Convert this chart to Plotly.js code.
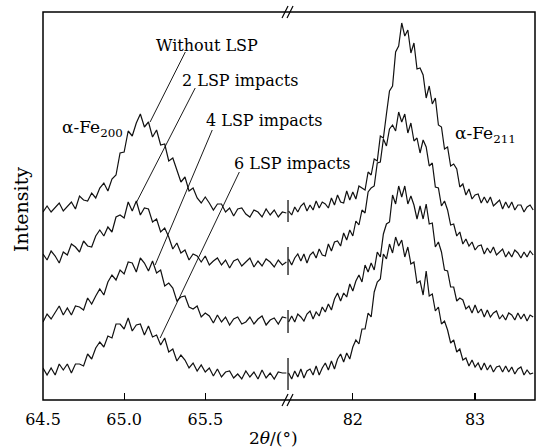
<!DOCTYPE html>
<html>
<head>
<meta charset="utf-8">
<script src="https://cdn.plot.ly/plotly-3.0.1.min.js"></script>
<style>html,body{margin:0;padding:0;background:#fff;}#chart{width:536px;height:448px;}</style>
</head>
<body>
<div id="chart"></div>
<script>
// 2θ sampling (degrees), low-angle segment (α-Fe 200) and high-angle segment (α-Fe 211)
const twoThetaLow = [64.5,64.525,64.55,64.575,64.6,64.625,64.65,64.675,64.7,64.725,64.75,64.775,64.8,64.825,64.85,64.875,64.9,64.925,64.95,64.975,65,65.025,65.05,65.075,65.1,65.125,65.15,65.175,65.2,65.225,65.25,65.275,65.3,65.325,65.35,65.375,65.4,65.425,65.45,65.475,65.5,65.525,65.55,65.575,65.6,65.625,65.65,65.675,65.7,65.725,65.75,65.775,65.8,65.825,65.85,65.875,65.9,65.925,65.95,65.975,66.0];
const twoThetaHigh = [81.475,81.5,81.525,81.55,81.575,81.6,81.625,81.65,81.675,81.7,81.725,81.75,81.775,81.8,81.825,81.85,81.875,81.9,81.925,81.95,81.975,82,82.025,82.05,82.075,82.1,82.125,82.15,82.175,82.2,82.225,82.25,82.275,82.3,82.325,82.35,82.375,82.4,82.425,82.45,82.475,82.5,82.525,82.55,82.575,82.6,82.625,82.65,82.675,82.7,82.725,82.75,82.775,82.8,82.825,82.85,82.875,82.9,82.925,82.95,82.975,83,83.025,83.05,83.075,83.1,83.125,83.15,83.175,83.2,83.225,83.25,83.275,83.3,83.325,83.35,83.375,83.4,83.425,83.45,83.475];

// Intensity (a.u., stacked)
const withoutLow = [188,194,188,193,197,189,193,198,191,204,200,199,207,202,212,217,209,221,225,247,248,269,264,277,286,273,278,263,270,255,256,239,242,231,218,223,209,212,202,197,203,197,190,196,196,188,192,184,191,192,186,183,190,188,183,191,185,190,183,188,187];
const lsp2Low = [146,140,149,144,137,148,145,156,153,148,159,154,153,164,170,164,173,168,183,185,182,198,189,199,185,192,191,178,181,168,172,163,151,157,147,150,140,146,144,138,144,135,139,142,135,140,132,139,141,134,138,142,133,139,134,141,138,133,140,135,138];
const lsp4Low = [78,86,81,88,94,85,92,85,94,93,90,102,96,104,111,105,118,125,120,130,126,138,137,128,142,137,129,139,127,130,114,117,112,99,103,104,93,91,94,83,87,84,77,85,78,83,75,81,83,76,78,83,76,81,84,75,80,82,76,83,82];
const lsp6Low = [32,25,32,25,36,30,36,27,36,36,34,46,41,52,58,53,64,62,76,76,71,82,69,75,76,65,74,63,65,55,62,48,51,39,45,40,32,37,29,35,28,32,24,31,23,28,29,22,26,21,29,23,28,21,30,22,27,21,28,27,27];

const withoutHigh = [189,185,193,188,194,197,189,195,190,199,192,198,196,192,202,195,205,198,197,209,200,208,201,214,212,210,228,225,241,239,264,262,286,309,314,348,354,377,364,370,347,357,331,332,325,302,314,296,302,275,273,251,253,234,236,231,213,216,205,211,201,205,206,197,203,197,203,194,197,200,191,198,192,198,190,195,195,188,193,195,190];
const lsp2High = [141,135,142,146,139,146,137,145,148,142,151,145,144,156,149,158,159,154,167,160,170,164,179,175,190,187,208,212,214,237,238,261,254,271,275,269,288,278,286,267,277,259,262,247,260,253,234,237,213,212,194,199,190,175,176,164,168,156,161,154,158,150,154,155,146,152,147,153,145,148,151,143,148,143,150,147,142,148,143,149,145];
const lsp4High = [78,84,78,86,83,79,86,89,81,88,84,93,88,96,90,101,107,99,107,103,116,109,119,125,118,135,128,137,130,148,143,166,176,178,205,196,214,203,214,196,204,195,181,194,181,196,176,177,153,158,148,130,129,113,113,99,102,100,91,94,87,95,87,91,83,90,83,87,89,81,85,80,87,85,80,87,81,86,79,85,83];
const lsp6High = [27,21,29,23,31,22,29,31,25,34,25,32,37,30,39,31,41,46,38,47,41,53,60,56,71,71,87,83,108,118,121,146,141,156,147,163,154,160,143,153,136,138,117,119,105,129,104,106,89,93,76,79,70,57,60,48,51,40,42,34,40,33,37,30,37,30,35,28,33,34,28,34,28,33,26,31,33,25,30,26,27];

const seriesNames = ['Without LSP','2 LSP impacts','4 LSP impacts','6 LSP impacts'];
const lowSeries = [withoutLow, lsp2Low, lsp4Low, lsp6Low];
const highSeries = [withoutHigh, lsp2High, lsp4High, lsp6High];

const lowTicks = [64.5, 65.0, 65.5];
const lowTickText = ['64.5','65.0','65.5'];
const highTicks = [82, 83];
const highTickText = ['82','83'];

// label anchor points on the curves (2θ, intensity) for leader lines
const labelTips = [[65.160,278],[65.074,197],[65.191,135],[65.222,62]];
const labelStarts = [[65.377,348],[65.438,312],[65.543,270],[65.710,228]];

const FONT = 'DejaVu Serif, serif';
const BREAK = 0.498;

const traces = [];
for (let i = 0; i < 4; i++) {
  traces.push({x: twoThetaLow, y: lowSeries[i], xaxis:'x', yaxis:'y', mode:'lines', name: seriesNames[i],
    line:{color:'#111', width:1.2}, showlegend:false, hoverinfo:'skip'});
  traces.push({x: twoThetaHigh, y: highSeries[i], xaxis:'x2', yaxis:'y', mode:'lines', name: seriesNames[i],
    line:{color:'#111', width:1.2}, showlegend:false, hoverinfo:'skip'});
}

const shapes = [];
// frame
shapes.push({type:'rect', xref:'paper', yref:'paper', x0:0, x1:1, y0:0, y1:1, line:{color:'#000', width:1.5}, layer:'above'});
// leader lines
for (let i = 0; i < 4; i++) {
  shapes.push({type:'line', xref:'x', yref:'y', x0:labelStarts[i][0], y0:labelStarts[i][1], x1:labelTips[i][0], y1:labelTips[i][1], line:{color:'#000', width:0.9}});
}
// break marks on axes ("//")
const px = v => v/492, py = v => v/388;
[0, 1].forEach(yy => {
  [-5, 0].forEach(dx => {
    shapes.push({type:'line', xref:'paper', yref:'paper',
      x0: BREAK + px(dx-1), y0: yy - py(6), x1: BREAK + px(dx+5), y1: yy + py(6),
      line:{color:'#000', width:1.2}, layer:'above'});
  });
});
// break ticks crossing each curve
[[178,200],[125,153],[67,90],[10,42]].forEach(([a,b]) => {
  shapes.push({type:'line', xref:'paper', yref:'y', x0:BREAK, x1:BREAK, y0:a, y1:b, line:{color:'#000', width:1.2}});
});

const annFont = {family: FONT, size: 16, color:'#000'};
const annotations = [
  {text:'Without LSP', x:0.3333, y:0.9149},
  {text:'2 LSP impacts', x:0.4004, y:0.8247},
  {text:'4 LSP impacts', x:0.4492, y:0.7216},
  {text:'6 LSP impacts', x:0.5061, y:0.6108},
].map(a => Object.assign({xref:'paper', yref:'paper', showarrow:false, xanchor:'center', yanchor:'middle', font:annFont}, a));
[
  {text:'α-Fe<sub>200</sub>', x:0.1002, y:0.7010},
  {text:'α-Fe<sub>211</sub>', x:0.9004, y:0.6830},
].forEach(a => annotations.push(Object.assign({xref:'paper', yref:'paper', showarrow:false, xanchor:'center', yanchor:'middle', font:{family:FONT, size:17, color:'#000'}}, a)));
annotations.push({text:'2<i>θ</i>/(°)', xref:'paper', yref:'paper', x:0.4675, y:-0.0979, showarrow:false, xanchor:'center', yanchor:'middle', font:{family:FONT, size:17, color:'#000'}});
annotations.push({text:'Intensity', xref:'paper', yref:'paper', x:-0.0447, y:0.4897, showarrow:false, textangle:-90, xanchor:'center', yanchor:'middle', font:{family:FONT, size:19, color:'#000'}});

const axisCommon = {showgrid:false, zeroline:false, showline:false, ticks:'inside', ticklen:7, tickwidth:1.2, tickcolor:'#000',
  tickfont:{family:FONT, size:16, color:'#000'}, ticklabelstandoff:8, anchor:'y', fixedrange:true};

const layout = {
  width:536, height:448,
  margin:{l:43, r:1, t:12, b:48, pad:0},
  paper_bgcolor:'#fff', plot_bgcolor:'#fff',
  showlegend:false,
  xaxis: Object.assign({}, axisCommon, {domain:[0, BREAK], range:[64.5, 66.01], tickmode:'array', tickvals:lowTicks, ticktext:lowTickText}),
  xaxis2: Object.assign({}, axisCommon, {domain:[BREAK, 1], range:[81.47, 83.49], tickmode:'array', tickvals:highTicks, ticktext:highTickText}),
  yaxis: {range:[0, 388], showgrid:false, zeroline:false, showline:false, showticklabels:false, ticks:'', fixedrange:true},
  shapes: shapes,
  annotations: annotations
};

Plotly.newPlot('chart', traces, layout, {displayModeBar:false, staticPlot:true});
</script>
</body>
</html>
